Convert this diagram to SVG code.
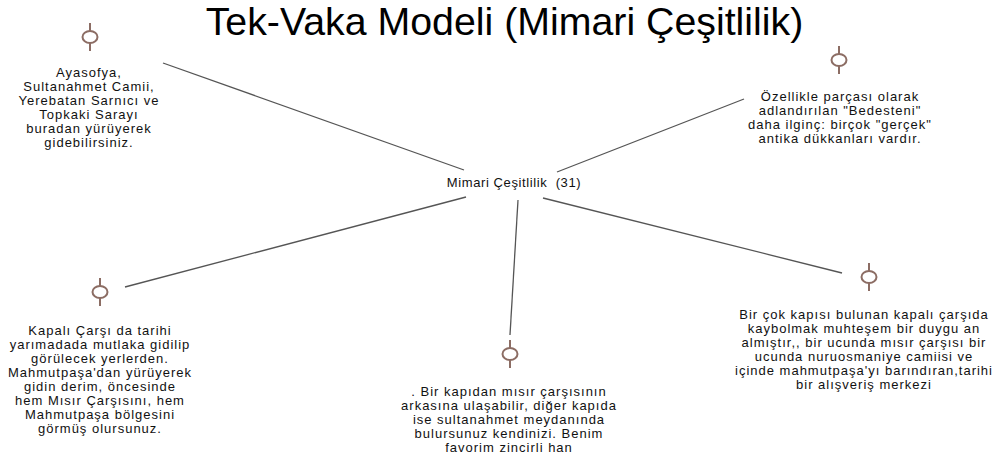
<svg xmlns="http://www.w3.org/2000/svg" xmlns:xlink="http://www.w3.org/1999/xlink" width="998" height="461" viewBox="0 0 998 461">
<style>
.title{font-family:"Liberation Sans",Arial,sans-serif;font-size:39.3px;fill:#000;text-anchor:middle}
.body{font-family:"Liberation Sans",Arial,sans-serif;font-size:13px;letter-spacing:1px;fill:#111;text-anchor:middle}
.center{font-family:"Liberation Sans",Arial,sans-serif;font-size:13px;letter-spacing:0.6px;fill:#111;text-anchor:middle;white-space:pre}
.conn{stroke:#555;stroke-width:1.3;fill:none}
.ic line{stroke:#8c6d64;stroke-width:2}
.ic ellipse{stroke:#8c6d64;stroke-width:2;fill:#fff}
</style>
<defs>
<g id="icon" class="ic">
<line x1="0" y1="-14" x2="0" y2="14"/>
<ellipse cx="0" cy="0" rx="7.5" ry="6"/>
</g>
</defs>
<rect width="998" height="461" fill="#fff"/>
<text class="title" x="504.5" y="35">Tek-Vaka Modeli (Mimari Çeşitlilik)</text>
<g id="connectors">
<line class="conn" x1="163" y1="63" x2="464" y2="170"/>
<line class="conn" x1="557" y1="172" x2="744" y2="99"/>
<line class="conn" x1="125" y1="287" x2="466" y2="197"/>
<line class="conn" x1="518" y1="200" x2="510" y2="335"/>
<line class="conn" x1="543" y1="198" x2="842" y2="273"/>
</g>
<g id="center-node">
<text class="center" x="514" y="187" xml:space="preserve">Mimari Çeşitlilik  (31)</text>
</g>
<g id="node-ayasofya">
<use xlink:href="#icon" x="90" y="37"/>
<text class="body" x="89" y="77"><tspan x="89">Ayasofya,</tspan><tspan x="89" dy="14">Sultanahmet Camii,</tspan><tspan x="89" dy="14">Yerebatan Sarnıcı ve</tspan><tspan x="89" dy="14">Topkaki Sarayı</tspan><tspan x="89" dy="14">buradan yürüyerek</tspan><tspan x="89" dy="14">gidebilirsiniz.</tspan></text>
</g>
<g id="node-bedesten">
<use xlink:href="#icon" x="839" y="60"/>
<text class="body" x="840" y="101"><tspan x="840">Özellikle parçası olarak</tspan><tspan x="840" dy="14">adlandırılan "Bedesteni"</tspan><tspan x="840" dy="14">daha ilginç: birçok "gerçek"</tspan><tspan x="840" dy="14">antika dükkanları vardır.</tspan></text>
</g>
<g id="node-kapalicarsi">
<use xlink:href="#icon" x="100" y="292"/>
<text class="body" x="100" y="335"><tspan x="100">Kapalı Çarşı da tarihi</tspan><tspan x="100" dy="14">yarımadada mutlaka gidilip</tspan><tspan x="100" dy="14">görülecek yerlerden.</tspan><tspan x="100" dy="14">Mahmutpaşa'dan yürüyerek</tspan><tspan x="100" dy="14">gidin derim, öncesinde</tspan><tspan x="100" dy="14">hem Mısır Çarşısını, hem</tspan><tspan x="100" dy="14">Mahmutpaşa bölgesini</tspan><tspan x="100" dy="14">görmüş olursunuz.</tspan></text>
</g>
<g id="node-kapi">
<use xlink:href="#icon" x="510" y="354"/>
<text class="body" x="509" y="396"><tspan x="509">. Bir kapıdan mısır çarşısının</tspan><tspan x="509" dy="14">arkasına ulaşabilir, diğer kapıda</tspan><tspan x="509" dy="14">ise sultanahmet meydanında</tspan><tspan x="509" dy="14">bulursunuz kendinizi. Benim</tspan><tspan x="509" dy="14">favorim zincirli han</tspan></text>
</g>
<g id="node-cokkapi">
<use xlink:href="#icon" x="869" y="277"/>
<text class="body" x="864" y="319"><tspan x="864">Bir çok kapısı bulunan kapalı çarşıda</tspan><tspan x="864" dy="14">kaybolmak muhteşem bir duygu an</tspan><tspan x="864" dy="14">almıştır,, bir ucunda mısır çarşısı bir</tspan><tspan x="864" dy="14">ucunda nuruosmaniye camiisi ve</tspan><tspan x="864" dy="14">içinde mahmutpaşa'yı barındıran,tarihi</tspan><tspan x="864" dy="14">bir alışveriş merkezi</tspan></text>
</g>
</svg>
